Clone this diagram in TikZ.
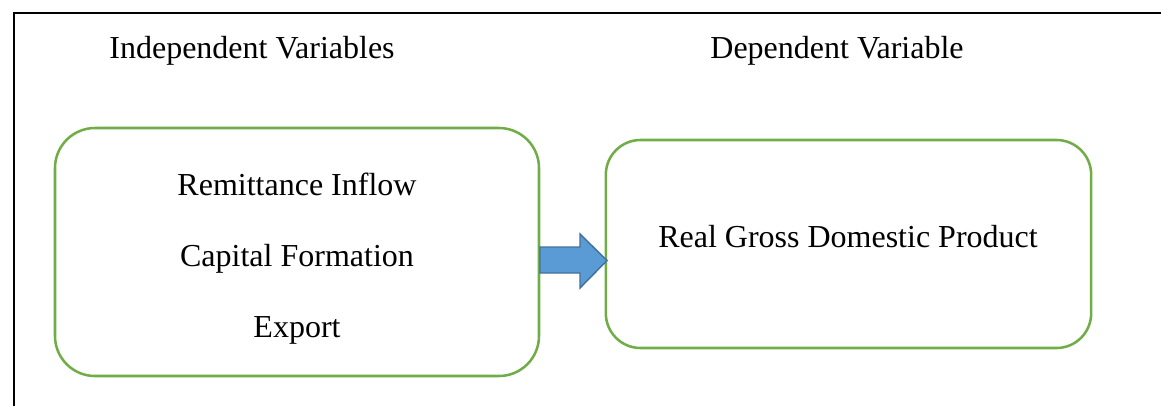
\documentclass[tikz,border=0pt]{standalone}
\usepackage{fontspec}
\setmainfont{Liberation Serif}
\begin{document}
\begin{tikzpicture}[x=0.75pt,y=-0.75pt,
  lbl/.style={anchor=base,inner sep=0pt,font=\fontsize{24pt}{28pt}\selectfont},
  gbox/.style={draw=boxgreen,line width=1.9pt,inner sep=0pt},
]
\definecolor{boxgreen}{HTML}{70AD47}
\definecolor{arrfill}{HTML}{5B9BD5}
\definecolor{arrline}{HTML}{41719C}
\useasboundingbox (0,0) rectangle (1161,405);
\draw[line width=2pt,line cap=rect] (14,405) -- (14,13) -- (1161,13);
\node[lbl] (iv) at (252,58) {Independent Variables};
\node[lbl] (dv) at (837,58) {Dependent Variable};
\node[gbox,rounded corners=30pt,minimum width=363pt,minimum height=186pt] (L) at (297,252) {};
\node[gbox,rounded corners=26pt,minimum width=364pt,minimum height=156pt] (R) at (848.5,244) {};
\node[lbl] (t1) at (297,195) {Remittance Inflow};
\node[lbl] (t2) at (297,266) {Capital Formation};
\node[lbl] (t3) at (297,337) {Export};
\node[lbl] (t4) at (848,247) {Real Gross Domestic Product};
\draw[fill=arrfill,draw=arrline,line width=1.1pt,line join=miter]
  (540,247) -- (580,247) -- (580,234) -- (607,260.5) -- (580,288) -- (580,273) -- (540,273) -- cycle;
\end{tikzpicture}
\end{document}
